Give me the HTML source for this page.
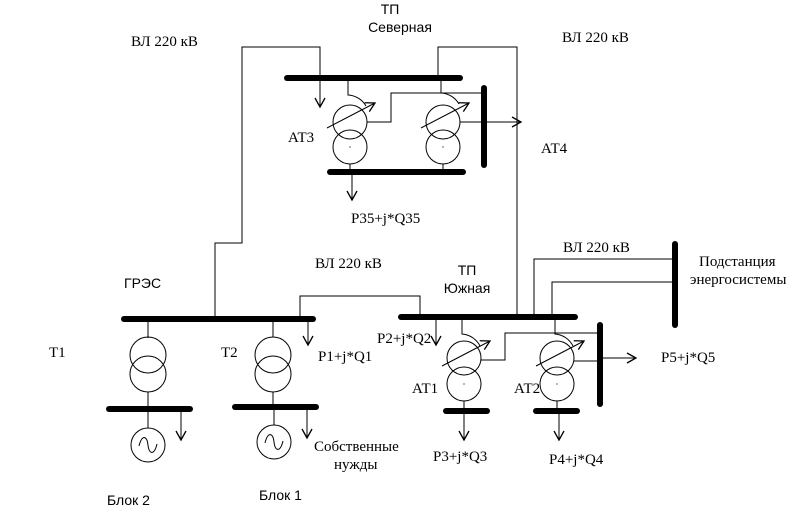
<!DOCTYPE html>
<html><head><meta charset="utf-8"><style>
html,body{margin:0;padding:0;background:#fff;}
svg{display:block;}
.s{font-family:"Liberation Serif",serif;font-size:15px;fill:#000;}
.a{font-family:"Liberation Sans",sans-serif;font-size:14px;fill:#000;}
</style></head><body>
<svg width="803" height="517" viewBox="0 0 803 517" xmlns="http://www.w3.org/2000/svg">
<defs>
<marker id="ar" markerWidth="12" markerHeight="12" refX="10" refY="6" orient="auto" markerUnits="userSpaceOnUse">
<path d="M1,1 L10,6 L1,11" fill="none" stroke="#000" stroke-width="1.3"/></marker>
</defs>
<g stroke="#000" fill="none" stroke-width="1">
<!-- lines -->
<polyline points="320,78 320,47 242,47 242,243 215,243 215,319"/>
<polyline points="438,78 438,47 517,47 517,317"/>
<polyline points="300,319 300,296 420,296 420,317"/>
<polyline points="534,317 534,259 675,259"/>
<polyline points="552,317 552,282 675,282"/>
</g>
<g stroke="#000" stroke-width="6" stroke-linecap="round">
<line x1="287" y1="78" x2="460" y2="78"/>
<line x1="330" y1="172" x2="463" y2="172"/>
<line x1="484" y1="88" x2="484" y2="165"/>
<line x1="124" y1="319" x2="313" y2="319"/>
<line x1="109" y1="409" x2="190" y2="409"/>
<line x1="235" y1="407" x2="316" y2="407"/>
<line x1="401" y1="317" x2="575" y2="317"/>
<line x1="446" y1="411" x2="487" y2="411"/>
<line x1="536" y1="411" x2="577" y2="411"/>
<line x1="600" y1="325" x2="600" y2="404"/>
<line x1="675" y1="244" x2="675" y2="325"/>
</g>
<g stroke="#000" fill="none" stroke-width="1">
<!-- Northern -->
<line x1="320" y1="78" x2="320" y2="107" marker-end="url(#ar)"/>
<circle cx="350" cy="122" r="17"/><circle cx="350" cy="147" r="17"/>
<path d="M348,78 V95 A22,22 0 0 1 366,106"/>
<line x1="327" y1="128" x2="375" y2="103" marker-end="url(#ar)"/>
<polyline points="367,122 391,122 391,93 484,93"/>
<line x1="350" y1="164" x2="350" y2="172"/>
<line x1="352" y1="172" x2="352" y2="200" marker-end="url(#ar)"/>
<circle cx="443" cy="122" r="17"/><circle cx="443" cy="147" r="17"/>
<path d="M441,78 V93 A22,22 0 0 1 459,104"/>
<line x1="421" y1="128" x2="469" y2="103" marker-end="url(#ar)"/>
<line x1="460" y1="122" x2="484" y2="122"/>
<line x1="443" y1="164" x2="443" y2="172"/>
<line x1="484" y1="122" x2="521" y2="122" marker-end="url(#ar)"/>
<!-- GRES -->
<line x1="148" y1="319" x2="148" y2="338"/>
<circle cx="148" cy="355" r="18"/><circle cx="148" cy="374" r="18"/>
<line x1="148" y1="392" x2="148" y2="409"/>
<line x1="148" y1="409" x2="148" y2="428"/>
<circle cx="148" cy="445" r="17"/>
<path d="M139,446 C142,434 147,436 148,445 C149,454 154,456 157,444"/>
<line x1="181" y1="409" x2="181" y2="440" marker-end="url(#ar)"/>
<line x1="273" y1="319" x2="273" y2="337"/>
<circle cx="273" cy="355" r="18"/><circle cx="273" cy="374" r="18"/>
<line x1="273" y1="392" x2="273" y2="407"/>
<line x1="274" y1="407" x2="274" y2="425"/>
<circle cx="274" cy="442" r="17"/>
<path d="M265,443 C268,431 273,433 274,442 C275,451 280,453 283,441"/>
<line x1="307" y1="407" x2="307" y2="438" marker-end="url(#ar)"/>
<line x1="308" y1="319" x2="308" y2="345" marker-end="url(#ar)"/>
<!-- South -->
<line x1="436" y1="317" x2="436" y2="345" marker-end="url(#ar)"/>
<circle cx="464" cy="358" r="17"/><circle cx="464" cy="384" r="17"/>
<path d="M462,317 V334 A22,22 0 0 1 480,346"/>
<line x1="442" y1="366" x2="490" y2="341" marker-end="url(#ar)"/>
<polyline points="481,360 505,360 505,333 600,333"/>
<line x1="464" y1="401" x2="464" y2="411"/>
<line x1="464" y1="411" x2="464" y2="440" marker-end="url(#ar)"/>
<circle cx="557" cy="358" r="17"/><circle cx="557" cy="384" r="17"/>
<path d="M555,317 V334 A22,22 0 0 1 573,346"/>
<line x1="536" y1="366" x2="584" y2="341" marker-end="url(#ar)"/>
<line x1="574" y1="361" x2="600" y2="361"/>
<line x1="557" y1="401" x2="557" y2="411"/>
<line x1="559" y1="411" x2="559" y2="440" marker-end="url(#ar)"/>
<line x1="600" y1="358" x2="636" y2="358" marker-end="url(#ar)"/>
</g>
<g fill="#000">
<circle cx="350" cy="147" r="0.6"/><circle cx="443" cy="147" r="0.6"/>
<circle cx="464" cy="384" r="0.6"/><circle cx="557" cy="384" r="0.6"/>
</g>
<text class="a" x="390" y="14" text-anchor="middle">ТП</text>
<text class="a" x="400" y="32" text-anchor="middle">Северная</text>
<text class="s" x="131" y="46">ВЛ 220 кВ</text>
<text class="s" x="562" y="42">ВЛ 220 кВ</text>
<text class="s" x="288" y="142">АТ3</text>
<text class="s" x="541" y="153">АТ4</text>
<text class="s" x="351" y="223">P35+j*Q35</text>
<text class="s" x="563" y="252">ВЛ 220 кВ</text>
<text class="s" x="315" y="268">ВЛ 220 кВ</text>
<text class="s" x="699" y="266">Подстанция</text>
<text class="s" x="690" y="284">энергосистемы</text>
<text class="a" x="467" y="275" text-anchor="middle">ТП</text>
<text class="a" x="467" y="293" text-anchor="middle">Южная</text>
<text class="a" x="124" y="288">ГРЭС</text>
<text class="s" x="49" y="357">Т1</text>
<text class="s" x="221" y="357">Т2</text>
<text class="s" x="318" y="361">P1+j*Q1</text>
<text class="s" x="377" y="343">P2+j*Q2</text>
<text class="s" x="661" y="362">P5+j*Q5</text>
<text class="s" x="412" y="393">АТ1</text>
<text class="s" x="514" y="393">АТ2</text>
<text class="s" x="314" y="451">Собственные</text>
<text class="s" x="334" y="469">нужды</text>
<text class="s" x="433" y="461">P3+j*Q3</text>
<text class="s" x="549" y="464">P4+j*Q4</text>
<text class="a" x="107" y="505">Блок 2</text>
<text class="a" x="259" y="500">Блок 1</text>
</svg>
</body></html>
